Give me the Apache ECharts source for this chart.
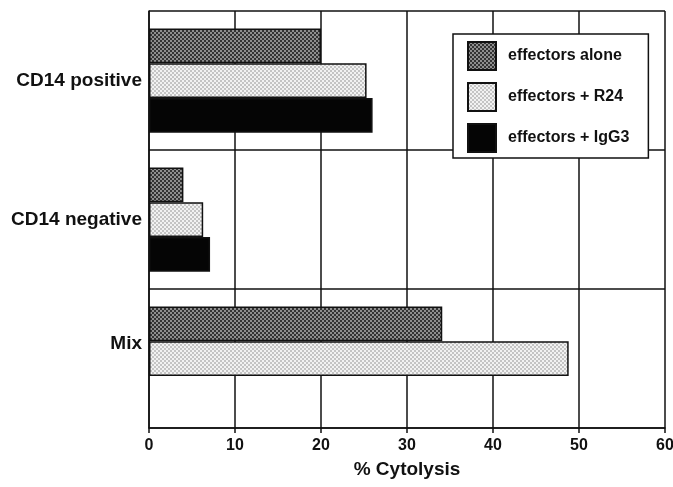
<!DOCTYPE html>
<html>
<head>
<meta charset="utf-8">
<script src="https://cdn.jsdelivr.net/npm/echarts@6/dist/echarts.min.js"></script>
<style>
  html, body { margin: 0; padding: 0; background: #fff; overflow: hidden; }
  #chart { width: 673px; height: 487px; }
</style>
</head>
<body>
<div id="chart"></div>
<script>
// Target cell groups (top to bottom)
const categories = ['CD14 positive', 'CD14 negative', 'Mix'];

// % cytolysis per treatment
const effectorsAlone = [20.0, 4.0, 34.1];
const effectorsR24   = [25.3, 6.3, 48.8];
const effectorsIgG3  = [26.0, 7.1, null];

const seriesNames = ['effectors alone', 'effectors + R24', 'effectors + IgG3'];

// Small checkerboard tiles used as bar fills
function checker(c1, c2, cell) {
  const cv = document.createElement('canvas');
  cv.width = cell * 2;
  cv.height = cell * 2;
  const ctx = cv.getContext('2d');
  ctx.fillStyle = c1;
  ctx.fillRect(0, 0, cell * 2, cell * 2);
  ctx.fillStyle = c2;
  ctx.fillRect(0, 0, cell, cell);
  ctx.fillRect(cell, cell, cell, cell);
  return { image: cv, repeat: 'repeat' };
}

const darkFill = checker('#8e8e8e', '#333333', 2);
const lightFill = checker('#f2f2f2', '#c4c4c4', 2);
const blackFill = '#050505';

const font = 'Liberation Sans, Arial, Helvetica, sans-serif';

function barSeries(name, data, fill) {
  return {
    name: name,
    type: 'bar',
    data: data,
    barGap: '0%',
    barCategoryGap: '25%',
    itemStyle: { color: fill, borderColor: '#111', borderWidth: 1.5 },
    emphasis: { disabled: true },
    animation: false
  };
}

const chart = echarts.init(document.getElementById('chart'), null, { renderer: 'canvas' });

chart.setOption({
  backgroundColor: '#fff',
  animation: false,
  grid: { left: 149, right: 8, top: 11, bottom: 59, containLabel: false, outerBoundsMode: 'none' },
  legend: {
    orient: 'vertical',
    left: 453,
    top: 34,
    data: seriesNames,
    itemWidth: 28,
    itemHeight: 28,
    itemGap: 11,
    icon: 'rect',
    backgroundColor: '#fff',
    borderColor: '#111',
    borderWidth: 1.5,
    borderRadius: 0,
    padding: [7, 19, 5, 14],
    selectedMode: false,
    textStyle: {
      fontFamily: font,
      fontWeight: 'bold',
      fontSize: 16,
      color: '#111',
      padding: [0, 0, 0, 7]
    }
  },
  xAxis: {
    type: 'value',
    min: 0,
    max: 60,
    interval: 10,
    name: '% Cytolysis',
    nameLocation: 'middle',
    nameGap: 32,
    nameTextStyle: { fontFamily: font, fontWeight: 'bold', fontSize: 19, color: '#111' },
    axisLine: { show: true, lineStyle: { color: '#111', width: 1.5 } },
    axisTick: { show: true, inside: false, length: 5, lineStyle: { color: '#111', width: 1.5 } },
    axisLabel: { fontFamily: font, fontWeight: 'bold', fontSize: 16, color: '#111', margin: 10 },
    splitLine: { show: true, lineStyle: { color: '#111', width: 1.5 } }
  },
  yAxis: {
    type: 'category',
    data: categories,
    inverse: true,
    axisLine: { show: true, lineStyle: { color: '#111', width: 1.5 } },
    axisTick: { show: false },
    axisLabel: {
      margin: 7,
      formatter: function (v) {
        return v === 'Mix' ? '{mix|' + v + '}' : '{n|' + v + '}';
      },
      rich: {
        n: { fontFamily: font, fontWeight: 'bold', fontSize: 19, color: '#111' },
        mix: { fontFamily: font, fontWeight: 'bold', fontSize: 19, color: '#111', padding: [0, 0, 30, 0] }
      }
    },
    splitLine: { show: true, lineStyle: { color: '#111', width: 1.5 } }
  },
  series: [
    barSeries(seriesNames[0], effectorsAlone, darkFill),
    barSeries(seriesNames[1], effectorsR24, lightFill),
    barSeries(seriesNames[2], effectorsIgG3, blackFill)
  ]
});
</script>
</body>
</html>
